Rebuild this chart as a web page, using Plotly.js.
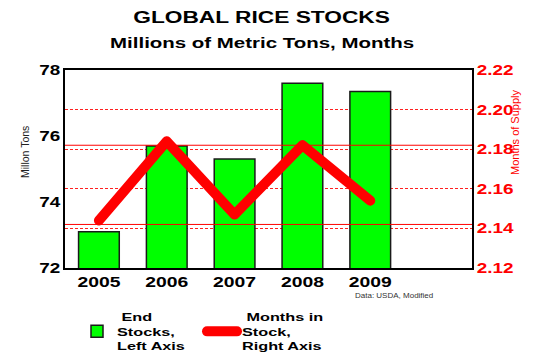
<!DOCTYPE html>
<html>
<head>
<meta charset="utf-8">
<script src="https://cdn.plot.ly/plotly-3.0.1.min.js"></script>
<style>
  html, body { margin: 0; padding: 0; background: #fff; }
  #chart { width: 542px; height: 360px; }
  .scatterlayer .js-line, .legend .js-line { stroke-linecap: round !important; stroke-linejoin: round !important; }
</style>
</head>
<body>
<div id="chart"></div>
<script>
// ---- data ----
const years = ['2005', '2006', '2007', '2008', '2009'];
const endStocks = [73.1, 75.7, 75.3, 77.6, 77.35];          // left axis, million tons
const monthsInStock = [2.144, 2.184, 2.147, 2.182, 2.154];  // right axis, months of supply
const leftTicks = [72, 74, 76, 78];
const rightTicks = [2.12, 2.14, 2.16, 2.18, 2.20, 2.22];
const refLines = [2.182, 2.142];                              // solid red reference lines (right axis)

const xIdx = years.map((_, i) => i);

const FONT = 'Liberation Sans, Arial, sans-serif';

const traces = [
  {
    type: 'bar',
    name: '\u00a0End<br>Stocks,<br>Left Axis',
    x: xIdx,
    y: endStocks,
    width: 0.6,
    marker: { color: '#00ff00', line: { color: '#1a1a1a', width: 1.5 } },
    yaxis: 'y',
    hoverinfo: 'skip'
  },
  {
    type: 'scatter',
    mode: 'lines',
    name: '\u00a0Months in<br>Stock,<br>Right Axis',
    x: xIdx,
    y: monthsInStock,
    yaxis: 'y2',
    line: { color: '#ff0000', width: 10 },
    hoverinfo: 'skip'
  }
];

const shapes = refLines.map(v => ({
  type: 'line', xref: 'paper', x0: 0, x1: 1, yref: 'y2', y0: v, y1: v,
  line: { color: '#ff0000', width: 1 }, layer: 'above'
}));

const layout = {
  width: 542,
  height: 360,
  margin: { l: 65, r: 70, t: 70, b: 92, pad: 0, autoexpand: false },
  paper_bgcolor: '#ffffff',
  plot_bgcolor: '#ffffff',
  showlegend: true,
  font: { family: FONT, color: '#000' },
  title: {
    text: 'GLOBAL RICE STOCKS',
    font: { family: FONT, size: 16, weight: 'bold', color: '#000' },
    x: 0.483, xref: 'paper', xanchor: 'center',
    y: 1 - 17 / 360, yref: 'container', yanchor: 'middle'
  },
  xaxis: {
    range: [-0.5, 5.5],
    tickmode: 'array',
    tickvals: xIdx,
    ticktext: years,
    ticks: '',
    showgrid: false,
    zeroline: false,
    showline: true, linecolor: '#000', linewidth: 2, mirror: true,
    tickfont: { family: FONT, size: 14, weight: 'bold', color: '#000' }
  },
  yaxis: {
    range: [72, 78],
    tickmode: 'array',
    tickvals: leftTicks,
    ticktext: leftTicks.map(String),
    ticks: '',
    showgrid: false,
    zeroline: false,
    showline: true, linecolor: '#000', linewidth: 2, mirror: true,
    tickfont: { family: FONT, size: 14, weight: 'bold', color: '#000' }
  },
  yaxis2: {
    overlaying: 'y',
    side: 'right',
    range: [2.12, 2.22],
    tickmode: 'array',
    tickvals: rightTicks,
    ticktext: rightTicks.map(v => v.toFixed(2)),
    ticks: '',
    showgrid: true,
    gridcolor: '#ff2020',
    griddash: '3px,2px',
    gridwidth: 1,
    zeroline: false,
    showline: true, linecolor: '#000', linewidth: 2,
    tickfont: { family: FONT, size: 14, weight: 'bold', color: '#ff0000' }
  },
  legend: {
    orientation: 'h',
    x: 12 / 407, xanchor: 'left',
    y: -35 / 198, yanchor: 'top',
    font: { family: FONT, size: 11.2, weight: 'bold', color: '#000' },
    entrywidth: 80, entrywidthmode: 'pixels',
    traceorder: 'normal',
    bgcolor: 'rgba(0,0,0,0)'
  },
  shapes: shapes,
  annotations: [
    {
      text: 'Millions of Metric Tons, Months',
      xref: 'paper', yref: 'paper',
      x: 0.483, y: 1 + 27 / 198,
      xanchor: 'center', yanchor: 'middle',
      showarrow: false,
      font: { family: FONT, size: 14, weight: 'bold', color: '#000' }
    },
    {
      text: 'Millon Tons',
      xref: 'paper', yref: 'paper',
      x: -40 / 407, y: (268 - 152) / 198,
      xanchor: 'center', yanchor: 'middle',
      textangle: -90,
      showarrow: false,
      font: { family: FONT, size: 10.5, color: '#222' }
    },
    {
      text: 'Months of Supply',
      xref: 'paper', yref: 'paper',
      x: 1 + 43 / 407, y: (268 - 133) / 198,
      xanchor: 'center', yanchor: 'middle',
      textangle: -90,
      showarrow: false,
      font: { family: FONT, size: 11, color: '#ff0000' }
    },
    {
      text: 'Data: USDA, Modified',
      xref: 'paper', yref: 'paper',
      x: (394 - 65) / 407, y: (268 - 295) / 198,
      xanchor: 'center', yanchor: 'middle',
      showarrow: false,
      font: { family: FONT, size: 8, color: '#333' }
    }
  ]
};

// the reference lettering is horizontally stretched; widen the glyphs the same way
function stretch(el, factor) {
  const len = el.getComputedTextLength();
  if (len > 0) {
    el.setAttribute('textLength', (len * factor).toFixed(1));
    el.setAttribute('lengthAdjust', 'spacingAndGlyphs');
  }
}

Plotly.newPlot('chart', traces, layout, { displayModeBar: false, staticPlot: true }).then(() => {
  const gd = document.getElementById('chart');
  gd.querySelectorAll('.gtitle').forEach(t => stretch(t, 1.42));
  gd.querySelectorAll('.xtick text').forEach(t => stretch(t, 1.38));
  gd.querySelectorAll('.ytick text').forEach(t => stretch(t, 1.35));
  gd.querySelectorAll('.y2tick text').forEach(t => stretch(t, 1.35));
  const ann = gd.querySelectorAll('.annotation-text');
  if (ann[0]) stretch(ann[0], 1.46);
  gd.querySelectorAll('.legendtext').forEach(t => {
    const lines = t.querySelectorAll('tspan.line');
    if (lines.length) lines.forEach(l => stretch(l, 1.45));
    else stretch(t, 1.45);
  });
});
</script>
</body>
</html>
